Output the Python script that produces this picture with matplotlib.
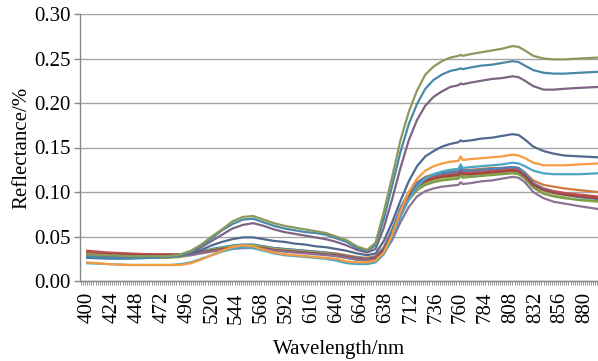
#!/usr/bin/env python3
"""Canopy reflectance spectra (400-890 nm) for a set of samples."""

import matplotlib

matplotlib.use("Agg")
import matplotlib.pyplot as plt
from matplotlib.ticker import FixedLocator, MultipleLocator

WAVELENGTH = [400, 420, 440, 460, 480, 490, 500, 510, 520, 530,
              540, 550, 560, 570, 580, 590, 600, 610, 620, 630,
              640, 650, 660, 670, 678, 686, 694, 702, 710, 718,
              726, 734, 742, 750, 758, 760, 762, 770, 780, 790,
              800, 810, 816, 822, 830, 840, 850, 860, 875, 892]

# tick labels as printed on the original axis (the "638" is in the source figure)
TICK_POS = [400, 424, 448, 472, 496, 520, 544, 568, 592, 616, 640,
            664, 688, 712, 736, 760, 784, 808, 832, 856, 880]
TICK_LABELS = ["400", "424", "448", "472", "496", "520", "544", "568", "592", "616", "640",
               "664", "638", "712", "736", "760", "784", "808", "832", "856", "880"]

S_OLIVE = [.030, .029, .028, .028, .028, .030, .034, .041, .050, .058,
           .067, .072, .073, .069, .065, .062, .060, .058, .056, .054,
           .050, .046, .039, .035, .043, .078, .117, .158, .190, .214,
           .232, .241, .247, .251, .253, .254, .253, .255, .257, .259,
           .261, .264, .263, .259, .253, .250, .249, .249, .250, .251]
S_TEAL = [.027, .026, .026, .026, .027, .029, .033, .040, .048, .057,
          .064, .069, .070, .066, .062, .059, .057, .055, .054, .052,
          .048, .044, .037, .034, .040, .070, .107, .145, .176, .199,
          .216, .226, .232, .236, .238, .239, .238, .240, .242, .243,
          .245, .247, .246, .242, .237, .234, .233, .233, .234, .235]
S_MAUVE = [.030, .029, .028, .028, .028, .029, .032, .038, .045, .052,
           .059, .063, .065, .062, .058, .055, .053, .051, .049, .047,
           .044, .040, .035, .032, .036, .060, .092, .127, .158, .181,
           .197, .207, .213, .218, .220, .222, .221, .223, .225, .227,
           .228, .230, .229, .225, .219, .215, .215, .216, .217, .218]
S_SLATE = [.026, .026, .026, .027, .028, .029, .031, .035, .040, .044,
           .047, .049, .049, .047, .045, .044, .042, .041, .039, .038,
           .036, .034, .031, .029, .031, .045, .066, .090, .112, .129,
           .140, .146, .151, .154, .156, .158, .157, .158, .160, .161,
           .163, .165, .164, .159, .151, .146, .143, .141, .140, .139]
S_ORANGE = [.021, .019, .018, .018, .018, .018, .020, .024, .029, .034,
            .038, .040, .039, .035, .032, .030, .029, .028, .027, .026,
            .025, .022, .021, .021, .023, .032, .052, .078, .100, .115,
            .124, .129, .132, .134, .135, .140, .136, .137, .138, .139,
            .140, .142, .141, .138, .133, .130, .130, .130, .131, .132]
S_AQUA = [.020, .019, .018, .018, .018, .019, .021, .025, .029, .033,
          .036, .038, .037, .034, .031, .029, .028, .027, .026, .025,
          .023, .020, .019, .019, .021, .030, .049, .072, .092, .106,
          .115, .120, .123, .125, .126, .131, .127, .128, .129, .130,
          .131, .133, .132, .129, .124, .121, .120, .120, .120, .121]
S_BROWN = [.033, .031, .030, .030, .030, .030, .031, .033, .035, .037,
           .039, .040, .040, .039, .037, .036, .035, .034, .033, .032,
           .031, .029, .027, .026, .028, .038, .058, .082, .100, .111,
           .117, .120, .122, .123, .124, .128, .125, .125, .126, .127,
           .127, .128, .127, .122, .113, .108, .106, .104, .102, .100]
S_RED = [.034, .032, .031, .030, .030, .030, .031, .033, .035, .037,
         .038, .039, .039, .038, .036, .035, .034, .033, .032, .031,
         .030, .028, .026, .025, .027, .036, .055, .078, .096, .108,
         .114, .117, .119, .120, .121, .125, .122, .122, .123, .124,
         .125, .126, .125, .120, .110, .104, .101, .099, .097, .095]
S_BLUE = [.026, .025, .025, .026, .027, .028, .030, .033, .036, .038,
          .040, .041, .041, .039, .037, .036, .035, .034, .033, .032,
          .030, .028, .026, .025, .027, .037, .057, .081, .099, .110,
          .116, .119, .121, .122, .123, .127, .124, .124, .125, .126,
          .127, .128, .127, .121, .110, .103, .099, .097, .094, .092]
S_GREEN = [.028, .027, .026, .026, .026, .027, .029, .032, .035, .037,
           .039, .040, .040, .038, .036, .035, .034, .033, .032, .031,
           .029, .027, .025, .024, .026, .034, .052, .075, .093, .104,
           .110, .113, .115, .116, .117, .121, .118, .119, .120, .121,
           .122, .123, .122, .117, .106, .099, .096, .094, .091, .089]
S_MOSS = [.027, .026, .026, .026, .027, .028, .030, .032, .035, .037,
          .038, .039, .039, .037, .035, .034, .033, .032, .031, .030,
          .028, .026, .024, .023, .025, .033, .050, .073, .091, .102,
          .108, .111, .113, .114, .115, .119, .116, .117, .118, .119,
          .120, .121, .120, .115, .105, .098, .095, .093, .091, .090]
S_DARKRED = [.031, .030, .029, .029, .029, .029, .030, .032, .034, .036,
             .037, .038, .038, .037, .035, .034, .033, .032, .031, .030,
             .029, .027, .025, .024, .026, .035, .053, .076, .094, .106,
             .112, .115, .117, .118, .119, .123, .120, .120, .121, .122,
             .123, .124, .123, .118, .108, .102, .099, .097, .095, .093]
S_LILAC = [.029, .028, .027, .027, .027, .028, .029, .031, .033, .035,
           .036, .037, .037, .036, .034, .033, .032, .031, .030, .029,
           .028, .026, .024, .023, .024, .031, .046, .066, .083, .095,
           .101, .104, .106, .107, .108, .111, .109, .110, .112, .113,
           .115, .117, .116, .111, .100, .093, .089, .087, .084, .081]

SERIES = [S_BROWN, S_RED, S_BLUE, S_GREEN, S_MOSS, S_DARKRED, S_LILAC,
          S_AQUA, S_ORANGE, S_SLATE, S_MAUVE, S_TEAL, S_OLIVE]
COLORS = ["#CF7A3C", "#C0504D", "#4F81BD", "#9BBB59", "#7F9B4A", "#A0463F", "#8B7395",
          "#4BA6C6", "#F79B43", "#50698F", "#7C6482", "#4A88A8", "#8A9A5B"]

GRID = "#A6A6A6"
AXIS = "#868686"


def main() -> int:
    plt.rcParams["font.family"] = ["Liberation Serif", "DejaVu Serif"]
    plt.rcParams["font.size"] = 15

    fig = plt.figure(figsize=(5.98, 3.61), dpi=100)
    ax = fig.add_axes([80 / 598, 1 - 281 / 361, 518 / 598, 267 / 361])

    for values, color in zip(SERIES, COLORS):
        ax.plot(WAVELENGTH, values, color=color, linewidth=1.6, solid_joinstyle="round")

    ax.set_xlim(393, 892.5)
    ax.set_ylim(0, 0.30)

    ax.xaxis.set_major_locator(FixedLocator(TICK_POS))
    ax.set_xticklabels(TICK_LABELS, rotation=90)
    ax.xaxis.set_minor_locator(MultipleLocator(2))
    ax.set_yticks([0, 0.05, 0.10, 0.15, 0.20, 0.25, 0.30])
    ax.set_yticklabels([f"{v:.2f}" for v in [0, 0.05, 0.10, 0.15, 0.20, 0.25, 0.30]])

    ax.yaxis.grid(True, color=GRID, linewidth=1.0)
    ax.set_axisbelow(True)
    for side in ("top", "right"):
        ax.spines[side].set_visible(False)
    for side in ("left", "bottom"):
        ax.spines[side].set_color(AXIS)
        ax.spines[side].set_linewidth(1.0)

    ax.tick_params(axis="x", which="both", length=3, width=0.6, color=AXIS, pad=5)
    ax.tick_params(axis="y", length=4, width=1.0, color=AXIS, pad=3)

    ax.set_ylabel("Reflectance/%")
    ax.yaxis.set_label_coords(-0.093, 0.5)
    ax.set_xlabel("Wavelength/nm")
    ax.xaxis.set_label_coords(0.5, -0.22)

    fig.savefig("out.png", dpi=100)
    plt.close(fig)
    return 0


if __name__ == "__main__":
    raise SystemExit(main())
